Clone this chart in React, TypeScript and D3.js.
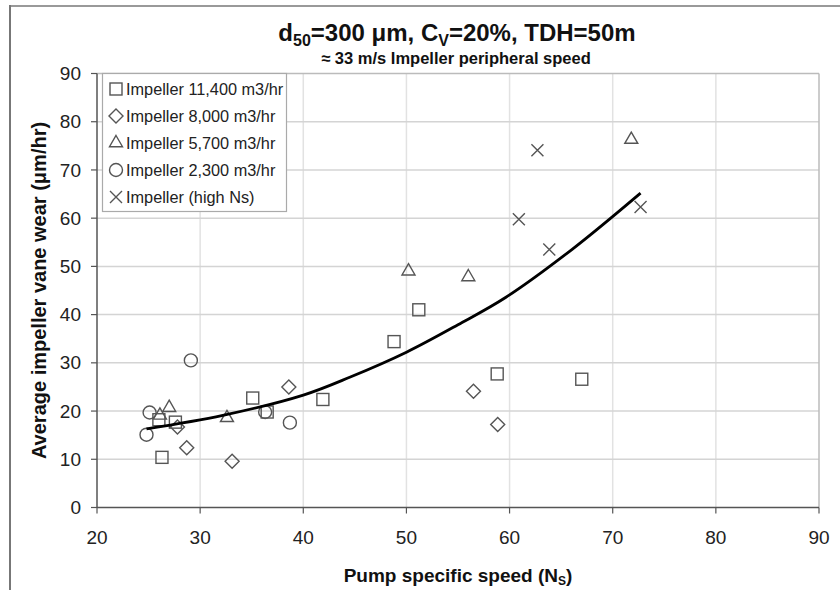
import React from "react";
import * as d3 from "d3";

const W = 840;
const H = 590;

const xTicks = [20, 30, 40, 50, 60, 70, 80, 90];
const yTicks = [0, 10, 20, 30, 40, 50, 60, 70, 80, 90];

const imp11400: [number, number][] = [
  [26.3, 10.4], [26.0, 18.2], [27.6, 17.7], [35.1, 22.7], [36.5, 19.8],
  [41.9, 22.4], [48.8, 34.4], [51.2, 41.0], [58.8, 27.7], [67.0, 26.6],
];
const imp8000: [number, number][] = [
  [27.8, 16.7], [28.7, 12.4], [33.1, 9.6], [38.6, 25.0], [56.5, 24.1], [58.85, 17.2],
];
const imp5700: [number, number][] = [
  [26.1, 19.1], [27.0, 20.7], [32.6, 18.6], [50.2, 49.0], [56.0, 47.8], [71.8, 76.3],
];
const imp2300: [number, number][] = [
  [24.8, 15.1], [25.1, 19.7], [29.1, 30.5], [36.3, 19.8], [38.7, 17.6],
];
const impHighNs: [number, number][] = [
  [60.9, 59.8], [62.7, 74.1], [63.85, 53.5], [72.7, 62.3],
];
const trendPoints: [number, number][] = [
  [24.8, 16.3], [32.2, 19.1], [40, 23.3], [44.5, 27.0], [50, 32.2],
  [55, 37.9], [59.65, 43.6], [66.1, 53.6], [72.7, 65.2],
];

const legendLabels = [
  "Impeller 11,400 m3/hr",
  "Impeller 8,000 m3/hr",
  "Impeller 5,700 m3/hr",
  "Impeller 2,300 m3/hr",
  "Impeller (high Ns)",
];

type Shape = "square" | "diamond" | "triangle" | "circle" | "x";
const shapes: Shape[] = ["square", "diamond", "triangle", "circle", "x"];
const seriesData = [imp11400, imp8000, imp5700, imp2300, impHighNs];

const L = 97, R = 819, T = 73.5, B = 507.5;
const x = d3.scaleLinear().domain([20, 90]).range([L, R]);
const y = d3.scaleLinear().domain([0, 90]).range([B, T]);

const MS = "#555";
const FONT = "'Liberation Sans', Arial, sans-serif";

function Marker({ shape, cx, cy }: { shape: Shape; cx: number; cy: number }) {
  const common = { fill: "none", stroke: MS, strokeWidth: 1.4 };
  if (shape === "square") {
    const s = 12;
    return <rect x={cx - s / 2} y={cy - s / 2} width={s} height={s} {...common} />;
  }
  if (shape === "diamond") {
    const h = 7;
    return <path d={`M${cx},${cy - h}L${cx + h},${cy}L${cx},${cy + h}L${cx - h},${cy}Z`} {...common} />;
  }
  if (shape === "triangle") {
    const s = 13;
    const hh = (s * Math.sqrt(3)) / 2;
    return (
      <path
        d={`M${cx},${cy - (2 * hh) / 3}L${cx + s / 2},${cy + hh / 3}L${cx - s / 2},${cy + hh / 3}Z`}
        {...common}
      />
    );
  }
  if (shape === "circle") {
    return <circle cx={cx} cy={cy} r={6.5} {...common} />;
  }
  const h = 6;
  return (
    <path d={`M${cx - h},${cy - h}L${cx + h},${cy + h}M${cx - h},${cy + h}L${cx + h},${cy - h}`} {...common} />
  );
}

export default function App() {
  const line = d3
    .line<[number, number]>()
    .x((d) => x(d[0]))
    .y((d) => y(d[1]))
    .curve(d3.curveCatmullRom.alpha(0.5));

  return (
    <svg
      width={W}
      height={H}
      style={{ position: "absolute", left: 0, top: 0, background: "#fff" }}
      fontFamily={FONT}
    >
      <rect x={0} y={0} width={W} height={H} fill="#fff" />
      {/* outer frame */}
      <line x1={10} y1={6} x2={W} y2={6} stroke="#999" strokeWidth={2} />
      <line x1={10} y1={5} x2={10} y2={H} stroke="#777" strokeWidth={2} />

      {/* gridlines */}
      {xTicks.slice(1, -1).map((t) => (
        <line key={"gx" + t} x1={x(t)} x2={x(t)} y1={T} y2={B} stroke="#e2e2e2" strokeWidth={1.5} />
      ))}
      {yTicks.slice(1, -1).map((t) => (
        <line key={"gy" + t} x1={L} x2={R} y1={y(t)} y2={y(t)} stroke="#d4d4d4" strokeWidth={1.5} />
      ))}
      {/* plot border top/right */}
      <line x1={L} x2={R} y1={T} y2={T} stroke="#bbb" strokeWidth={1.5} />
      <line x1={R} x2={R} y1={T} y2={B} stroke="#bbb" strokeWidth={1.5} />

      {/* axes */}
      <line x1={L} x2={L} y1={T} y2={B} stroke="#555" strokeWidth={1.5} />
      <line x1={L} x2={R} y1={B} y2={B} stroke="#555" strokeWidth={1.5} />
      {yTicks.map((t) => (
        <g key={"ty" + t}>
          <line x1={L - 6} x2={L} y1={y(t)} y2={y(t)} stroke="#555" strokeWidth={1.2} />
          <text x={L - 16} y={y(t)} dy="0.35em" textAnchor="end" fontSize={19} fill="#222">
            {t}
          </text>
        </g>
      ))}
      {xTicks.map((t) => (
        <g key={"tx" + t}>
          <line x1={x(t)} x2={x(t)} y1={B} y2={B + 6} stroke="#555" strokeWidth={1.2} />
          <text x={x(t)} y={537} dy="0.35em" textAnchor="middle" fontSize={19} fill="#222">
            {t}
          </text>
        </g>
      ))}

      {/* markers */}
      {seriesData.map((data, i) =>
        data.map((d, j) => <Marker key={i + "-" + j} shape={shapes[i]} cx={x(d[0])} cy={y(d[1])} />)
      )}

      {/* trend line */}
      <path d={line(trendPoints) || ""} fill="none" stroke="#000" strokeWidth={2.8} />

      {/* legend */}
      <rect x={102.5} y={T} width={184} height={138} fill="#fff" stroke="#aaa" strokeWidth={1.2} />
      {legendLabels.map((lab, i) => (
        <g key={lab}>
          <Marker shape={shapes[i]} cx={116} cy={89 + i * 27} />
          <text x={126} y={89 + i * 27} dy="0.36em" fontSize={16.3} fill="#222">
            {lab}
          </text>
        </g>
      ))}

      {/* titles */}
      <text x={457} y={41} textAnchor="middle" fontSize={24} fontWeight="bold" fill="#111">
        d<tspan fontSize={16} dy={5}>50</tspan>
        <tspan dy={-5}>=300 μm, C</tspan>
        <tspan fontSize={16} dy={5}>V</tspan>
        <tspan dy={-5}>=20%, TDH=50m</tspan>
      </text>
      <text x={456} y={64} textAnchor="middle" fontSize={16.5} fontWeight="bold" fill="#111">
        ≈ 33 m/s Impeller peripheral speed
      </text>
      <text
        transform={`translate(39, ${(T + B) / 2}) rotate(-90)`}
        dy="0.35em"
        textAnchor="middle"
        fontSize={20}
        fontWeight="bold"
        fill="#111"
      >
        Average impeller vane wear (μm/hr)
      </text>
      <text x={458} y={582} textAnchor="middle" fontSize={19} fontWeight="bold" fill="#111">
        Pump specific speed (N<tspan fontSize={12} dy={3}>S</tspan>
        <tspan dy={-3}>)</tspan>
      </text>
    </svg>
  );
}
